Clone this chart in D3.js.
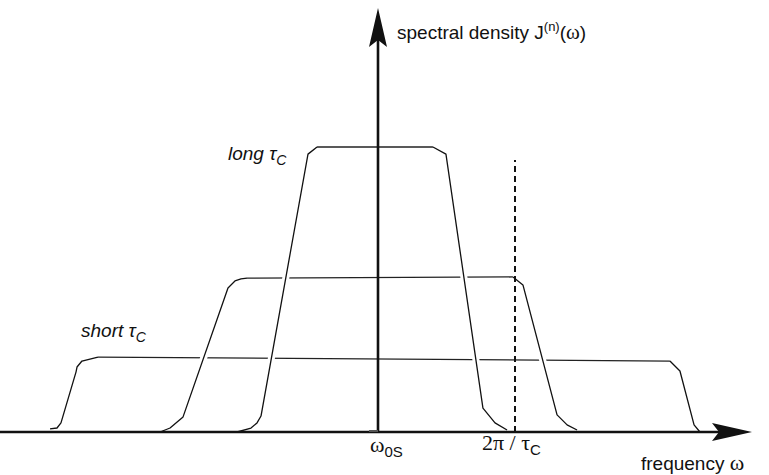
<!DOCTYPE html>
<html>
<head>
<meta charset="utf-8">
<script src="https://cdn.jsdelivr.net/npm/d3@7/dist/d3.min.js"></script>
<style>
  html, body { margin: 0; padding: 0; background: #fff; }
  svg { display: block; }
  text { font-family: "Liberation Sans", Arial, sans-serif; fill: #111; }
  .serif { font-family: "Liberation Serif", "Times New Roman", serif; }
</style>
</head>
<body>
<svg id="chart" width="769" height="475"></svg>
<script>
// ---- data (frequency in units of 2π/τC relative to ω0S, density relative to long-τC plateau) ----
const longFreq   = [-1.029, -0.927, -0.883, -0.854, -0.511, -0.445, 0.401, 0.496, 0.766, 0.854, 0.942];
const longDens   = [0.000, 0.014, 0.032, 0.056, 0.975, 1.000, 1.000, 0.975, 0.084, 0.032, 0.007];

const midFreq    = [-1.591, -1.518, -1.423, -1.095, -1.044, -1.000, -0.956, 0.985, 1.058, 1.307, 1.380, 1.453];
const midDens    = [0.000, 0.014, 0.053, 0.505, 0.530, 0.537, 0.540, 0.544, 0.516, 0.060, 0.025, 0.007];

const shortFreq  = [-2.394, -2.343, -2.314, -2.204, -2.197, -2.161, -2.044, 2.131, 2.204, 2.307, 2.350, 2.401];
const shortDens  = [0.011, 0.014, 0.032, 0.211, 0.228, 0.249, 0.263, 0.249, 0.214, 0.025, 0.000, 0.000];

const markerFreq = [0, 1];                  // ω0S and 2π/τC
const markerLabels = ["ω0S", "2π / τC"];
const curveLabels = ["long τC", "short τC"];

// ---- layout ----
const svg = d3.select("#chart");
const x = d3.scaleLinear().domain([0, 1]).range([378, 515]);
const y = d3.scaleLinear().domain([0, 1]).range([432, 147]);
const line = d3.line().x(d => x(d[0])).y(d => y(d[1]));

function pts(f, d) { return f.map((v, i) => [v, d[i]]); }
const curves = [pts(longFreq, longDens), pts(midFreq, midDens), pts(shortFreq, shortDens)];

function parts(c, a, b) {
  return { left: c.slice(0, a + 1), top: c.slice(a, b + 1), right: c.slice(b) };
}
const split = [parts(curves[0], 5, 6), parts(curves[1], 6, 7), parts(curves[2], 6, 7)];

const g = svg.append("g");
split.forEach(s => {
  g.append("path").attr("d", line(s.top)).attr("fill", "none")
    .attr("stroke", "#222").attr("stroke-width", 1.3);
});
split.forEach(s => {
  [s.left, s.right].forEach(p => {
    g.append("path").attr("d", line(p.slice(1, -1))).attr("fill", "none")
      .attr("stroke", "#fff").attr("stroke-width", 7);
  });
});
split.forEach(s => {
  [s.left, s.right].forEach(p => {
    g.append("path").attr("d", line(p)).attr("fill", "none")
      .attr("stroke", "#111").attr("stroke-width", 1.3).attr("stroke-linejoin", "round");
  });
});

// dashed marker at 2π/τC
g.append("line")
  .attr("x1", x(markerFreq[1])).attr("x2", x(markerFreq[1]))
  .attr("y1", y(0)).attr("y2", 160)
  .attr("stroke", "#111").attr("stroke-width", 2).attr("stroke-dasharray", "6,4");

// axes
const axY = y(0);
svg.append("line").attr("x1", 0).attr("x2", 722).attr("y1", axY).attr("y2", axY)
  .attr("stroke", "#111").attr("stroke-width", 2.6);
svg.append("path").attr("d", `M752,${axY} L712,${axY - 9} L719,${axY} L712,${axY + 9} Z`).attr("fill", "#111");
svg.append("line").attr("x1", x(0)).attr("x2", x(0)).attr("y1", axY + 1).attr("y2", 36)
  .attr("stroke", "#111").attr("stroke-width", 2.6);
svg.append("path").attr("d", `M${x(0)},8 L${x(0) - 9},47 L${x(0)},40 L${x(0) + 9},47 Z`).attr("fill", "#111");
svg.append("line").attr("x1", x(0) - 9).attr("x2", x(0)).attr("y1", axY - 1).attr("y2", axY - 1)
  .attr("stroke", "#555").attr("stroke-width", 2);

// axis titles
const yt = svg.append("text").attr("x", 397).attr("y", 39).attr("font-size", 19);
yt.append("tspan").text("spectral density J");
yt.append("tspan").attr("dy", -8).attr("font-size", 13).text("(n)");
yt.append("tspan").attr("dy", 8).text("(");
yt.append("tspan").attr("class", "serif").attr("font-size", 21).text("ω");
yt.append("tspan").text(")");

const xt = svg.append("text").attr("x", 641).attr("y", 470).attr("font-size", 19);
xt.append("tspan").text("frequency ");
xt.append("tspan").attr("class", "serif").attr("font-size", 22).text("ω");

// marker labels
const m0 = svg.append("text").attr("x", x(markerFreq[0]) - 8).attr("y", 452).attr("font-size", 22);
m0.append("tspan").attr("class", "serif").text(markerLabels[0].slice(0, 1));
m0.append("tspan").attr("dy", 5).attr("font-size", 15).text(markerLabels[0].slice(1));

const m1 = svg.append("text").attr("class", "serif").attr("x", x(markerFreq[1]) - 33).attr("y", 450).attr("font-size", 22);
m1.append("tspan").text(markerLabels[1].slice(0, 6));
m1.append("tspan").attr("dy", 5).attr("font-size", 15).attr("style", "font-family:'Liberation Sans',Arial,sans-serif").text(markerLabels[1].slice(6));

// curve labels
function curveLabel(txt, px, py) {
  const t = svg.append("text").attr("x", px).attr("y", py).attr("font-size", 19).attr("font-style", "italic");
  t.append("tspan").text(txt.slice(0, -1));
  t.append("tspan").attr("dy", 5).attr("font-size", 14).text(txt.slice(-1));
}
curveLabel(curveLabels[0], 228, 160);
curveLabel(curveLabels[1], 81, 337);
</script>
</body>
</html>
